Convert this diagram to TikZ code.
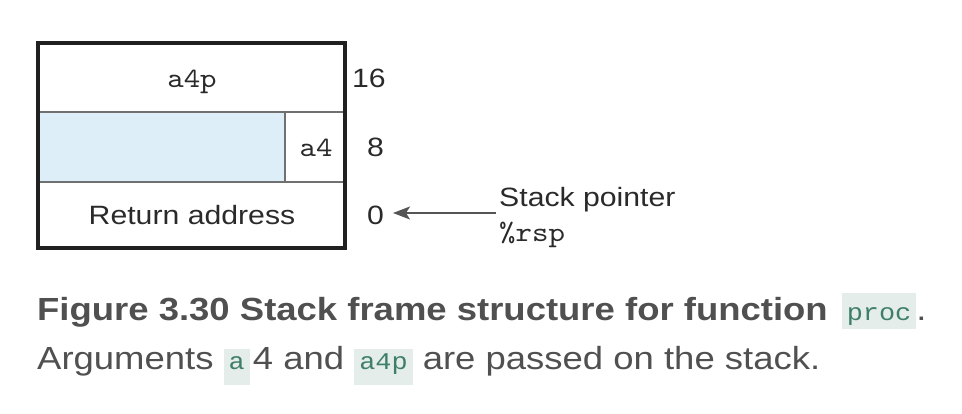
\documentclass[tikz,border=0pt]{standalone}
\usepackage{fontspec}
\setmainfont{Liberation Sans}[FakeStretch=1.14]
\setmonofont{lmmono10-regular.otf}[FakeStretch=1.12]
\newfontfamily\courfont{Liberation Mono}[FakeStretch=1.12]
\usetikzlibrary{arrows.meta}
\definecolor{cellblue}{HTML}{DDEEF9}
\definecolor{framecol}{HTML}{202020}
\definecolor{linecol}{HTML}{707070}
\definecolor{diagtext}{HTML}{2A2A2A}
\definecolor{captext}{HTML}{505050}
\definecolor{codebg}{HTML}{E4EDEA}
\definecolor{codefg}{HTML}{3F7F6A}
\newcommand\codechip[2]{{\setlength\fboxsep{0pt}\colorbox{codebg}{\rule[-#2]{0pt}{36pt}\hspace{5pt}{\courfont\fontsize{24}{24}\selectfont\color{codefg}#1}\hspace{5pt}}}}
\tikzset{
  frameline/.style={draw=framecol, line width=3.2pt},
  innerline/.style={draw=linecol, line width=1.6pt},
  dlabel/.style={inner sep=0pt, text=diagtext, font=\fontsize{26.5}{27}\selectfont},
  tlabel/.style={inner sep=0pt, text=diagtext, font=\ttfamily\fontsize{28}{28}\selectfont},
  ptrarrow/.style={draw=diagtext!80, line width=1.6pt, -{Stealth[length=17pt,width=13pt,inset=4pt]}},
  caption/.style={inner sep=0pt, text=captext, font=\fontsize{32}{32}\selectfont}
}
\begin{document}
\begin{tikzpicture}[x=1pt,y=-1pt]
\useasboundingbox (0,0) rectangle (962,414);
% stack frame
\fill[cellblue] (38,112) rectangle (285,182);
\draw[innerline] (38,112) -- (345,112);
\draw[innerline] (38,182) -- (345,182);
\draw[innerline] (285,112) -- (285,182);
\draw[frameline] (38,43) rectangle (345,248);
\node[tlabel, anchor=base] (a4p) at (192,88) {a4p};
\node[tlabel, anchor=base] (a4) at (316,157) {a4};
\node[dlabel, anchor=base] (ret) at (192,225) {Return address};
\node[dlabel, anchor=base east] (sixteen) at (386,88) {16};
\node[dlabel, anchor=base east] (eight) at (384,157) {8};
\node[dlabel, anchor=base east] (zero) at (384,225) {0};
\node[dlabel, anchor=base west] (sp) at (499,207) {Stack pointer};
\node[tlabel, anchor=base west] (rsp) at (499,242) {\%rsp};
\coordinate (ptrstart) at (496,213);
\draw[ptrarrow, shorten >=9pt] (ptrstart) -- (ptrstart -| zero.east);
% caption
\node[caption, anchor=base west] (cap1) at (37,320) {\textbf{Figure 3.30 Stack frame structure for function}\hspace{14pt}\codechip{proc}{9pt}.};
\node[caption, anchor=base west] (cap2) at (37,370) {Arguments \codechip{a}{15pt}\hspace{3pt}4 and \codechip{a4p}{15pt} are passed on the stack.};
\end{tikzpicture}
\end{document}
